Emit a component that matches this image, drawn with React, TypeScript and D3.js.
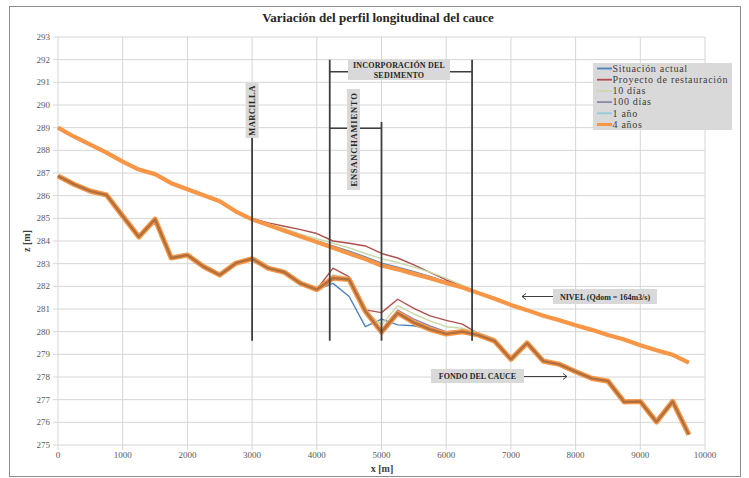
import React from "react";
import * as d3 from "d3";

// distancia a lo largo del cauce [m]
const xs = [
  0, 250, 500, 750, 1000, 1250, 1500, 1750, 2000, 2250, 2500, 2750, 3000, 3250,
  3500, 3750, 4000, 4250, 4500, 4750, 5000, 5250, 5500, 5750, 6000, 6250, 6500,
  6750, 7000, 7250, 7500, 7750, 8000, 8250, 8500, 8750, 9000, 9250, 9500, 9750,
];

// nivel de agua (Qdom = 164 m3/s)
const levelActual = [
  289.0, 288.6, 288.25, 287.9, 287.5, 287.15, 286.95, 286.55, 286.28, 286.02, 285.75, 285.3,
  284.97, 284.72, 284.5, 284.25, 284.0, 283.78, 283.55, 283.3, 283.02, 282.85, 282.65, 282.44,
  282.2, 281.98, 281.72, 281.45, 281.18, 280.95, 280.7, 280.5, 280.28, 280.08, 279.85, 279.65,
  279.4, 279.18, 278.98, 278.63,
];
const levelProyecto = [
  289.0, 288.6, 288.25, 287.9, 287.5, 287.15, 286.95, 286.55, 286.28, 286.02, 285.75, 285.3,
  285.0, 284.8, 284.65, 284.5, 284.33, 284.0, 283.9, 283.78, 283.45, 283.25, 282.95, 282.62,
  282.28, 282.0, 281.72, 281.45, 281.18, 280.95, 280.7, 280.5, 280.28, 280.08, 279.85, 279.65,
  279.4, 279.18, 278.98, 278.63,
];
const level10d = [
  289.0, 288.6, 288.25, 287.9, 287.5, 287.15, 286.95, 286.55, 286.28, 286.02, 285.75, 285.3,
  284.97, 284.75, 284.55, 284.3, 284.1, 283.9, 283.7, 283.45, 283.22, 283.05, 282.85, 282.63,
  282.35, 282.05, 281.75, 281.46, 281.18, 280.95, 280.7, 280.5, 280.28, 280.08, 279.85, 279.65,
  279.4, 279.18, 278.98, 278.63,
];
const level100d = [
  289.0, 288.6, 288.25, 287.9, 287.5, 287.15, 286.95, 286.55, 286.28, 286.02, 285.75, 285.3,
  284.96, 284.72, 284.48, 284.23, 283.98, 283.75, 283.5, 283.26, 282.98, 282.8, 282.6, 282.4,
  282.18, 281.97, 281.71, 281.45, 281.18, 280.95, 280.7, 280.5, 280.28, 280.08, 279.85, 279.65,
  279.4, 279.18, 278.98, 278.63,
];
const level1a = [
  289.0, 288.6, 288.25, 287.9, 287.5, 287.15, 286.95, 286.55, 286.28, 286.02, 285.75, 285.3,
  284.95, 284.71, 284.46, 284.21, 283.96, 283.72, 283.47, 283.22, 282.95, 282.77, 282.57, 282.38,
  282.16, 281.96, 281.7, 281.45, 281.18, 280.95, 280.7, 280.5, 280.28, 280.08, 279.85, 279.65,
  279.4, 279.18, 278.98, 278.63,
];
const level4a = [
  289.0, 288.6, 288.25, 287.9, 287.5, 287.15, 286.95, 286.55, 286.28, 286.02, 285.75, 285.3,
  284.95, 284.7, 284.45, 284.2, 283.95, 283.7, 283.45, 283.2, 282.92, 282.75, 282.55, 282.36,
  282.15, 281.95, 281.7, 281.45, 281.18, 280.95, 280.7, 280.5, 280.28, 280.08, 279.85, 279.65,
  279.4, 279.18, 278.98, 278.63,
];

// fondo del cauce
const bedActual = [
  286.87, 286.5, 286.2, 286.03, 285.1, 284.18, 284.96, 283.25, 283.38, 282.87, 282.5, 283.02,
  283.22, 282.8, 282.62, 282.13, 281.86, 282.13, 281.55, 280.22, 280.55, 280.3, 280.26, 280.12,
  279.92, 280.0, 279.85, 279.58, 278.78, 279.5, 278.7, 278.56, 278.24, 277.94, 277.82, 276.9,
  276.92, 276.02, 276.92, 275.46,
];
const bedProyecto = [
  286.87, 286.5, 286.2, 286.03, 285.1, 284.18, 284.96, 283.25, 283.38, 282.87, 282.5, 283.02,
  283.22, 282.8, 282.62, 282.13, 281.86, 282.8, 282.42, 280.96, 280.84, 281.43, 281.03, 280.7,
  280.5, 280.33, 279.9, 279.6, 278.78, 279.5, 278.7, 278.56, 278.24, 277.94, 277.82, 276.9,
  276.92, 276.02, 276.92, 275.46,
];
const bed10d = [
  286.87, 286.5, 286.2, 286.03, 285.1, 284.18, 284.96, 283.25, 283.38, 282.87, 282.5, 283.02,
  283.22, 282.8, 282.62, 282.13, 281.86, 282.5, 282.38, 280.93, 280.3, 281.15, 280.78, 280.48,
  280.22, 280.15, 279.95, 279.7, 278.78, 279.5, 278.7, 278.56, 278.24, 277.94, 277.82, 276.9,
  276.92, 276.02, 276.92, 275.46,
];
const bed100d = [
  286.87, 286.5, 286.2, 286.03, 285.1, 284.18, 284.96, 283.25, 283.38, 282.87, 282.5, 283.02,
  283.22, 282.8, 282.62, 282.13, 281.86, 282.45, 282.35, 280.92, 280.1, 280.95, 280.55, 280.25,
  280.0, 280.05, 279.88, 279.62, 278.78, 279.5, 278.7, 278.56, 278.24, 277.94, 277.82, 276.9,
  276.92, 276.02, 276.92, 275.46,
];
const bed1a = [
  286.87, 286.5, 286.2, 286.03, 285.1, 284.18, 284.96, 283.25, 283.38, 282.87, 282.5, 283.02,
  283.22, 282.8, 282.62, 282.13, 281.86, 282.4, 282.32, 280.9, 280.05, 280.88, 280.47, 280.16,
  279.95, 280.02, 279.86, 279.6, 278.78, 279.5, 278.7, 278.56, 278.24, 277.94, 277.82, 276.9,
  276.92, 276.02, 276.92, 275.46,
];
const bed4a = [
  286.87, 286.5, 286.2, 286.03, 285.1, 284.18, 284.96, 283.25, 283.38, 282.87, 282.5, 283.02,
  283.22, 282.8, 282.62, 282.13, 281.86, 282.36, 282.3, 280.9, 279.98, 280.82, 280.4, 280.1,
  279.9, 280.0, 279.85, 279.58, 278.78, 279.5, 278.7, 278.56, 278.24, 277.94, 277.82, 276.9,
  276.92, 276.02, 276.92, 275.46,
];

const seriesNames = [
  "Situación actual",
  "Proyecto de restauración",
  "10 días",
  "100 días",
  "1 año",
  "4 años",
];
const yTicks = d3.range(275, 294, 1);
const xTicks = d3.range(0, 10001, 1000);

const FONT = '"Liberation Serif", "DejaVu Serif", serif';

export default function App() {
  const W = 749;
  const H = 478;
  const x = d3.scaleLinear().domain([0, 10000]).range([58, 705]);
  const y = d3.scaleLinear().domain([275, 293]).range([445, 37]);

  const series = [
    { name: seriesNames[0], color: "#4f81bd", width: 1.4, level: levelActual, bed: bedActual },
    { name: seriesNames[1], color: "#b0504d", width: 1.4, level: levelProyecto, bed: bedProyecto },
    { name: seriesNames[2], color: "#c9d8a8", width: 1.4, level: level10d, bed: bed10d },
    { name: seriesNames[3], color: "#8f84aa", width: 1.4, level: level100d, bed: bed100d },
    { name: seriesNames[4], color: "#8fcbd8", width: 1.4, level: level1a, bed: bed1a },
    { name: seriesNames[5], color: "#f79646", width: 4.2, level: level4a, bed: bed4a },
  ];

  const line = (vals: number[]) =>
    d3.line<number>().x((_, i) => x(xs[i])).y((d) => y(d))(vals) || "";

  const dark = "#3f3f3f";
  const boxFill = "#d9d9d9";
  const lineBottom = 279.6;

  // lineas verticales de referencia
  const vlines = [
    { x: 3000, top: 288.6 },
    { x: 4200, top: 292.0 },
    { x: 5000, top: 289.25 },
    { x: 6400, top: 292.0 },
  ];

  return (
    <div>
      <style>{`body{margin:0} svg text{font-family:${FONT}}`}</style>
      <svg width={W} height={H} style={{ display: "block" }} fontFamily={FONT}>
        <rect x={0} y={0} width={W} height={H} fill="#fff" />
        <rect x={9.5} y={6.5} width={731} height={470} fill="none" stroke="#8c8c8c" />

        <text x={378} y={22} textAnchor="middle" fontSize={13} fontWeight="bold" fill="#262626">
          Variación del perfil longitudinal del cauce
        </text>

        {/* rejilla */}
        {yTicks.map((t) => (
          <g key={"y" + t}>
            <line x1={x(0) - 5} x2={x(10000)} y1={y(t)} y2={y(t)} stroke="#d6d6d6" />
            <text x={x(0) - 8} y={y(t)} dy="0.35em" textAnchor="end" fontSize={9} fill="#595959">
              {t}
            </text>
          </g>
        ))}
        {xTicks.map((t) => (
          <g key={"x" + t}>
            <line x1={x(t)} x2={x(t)} y1={y(293)} y2={y(275) + 5} stroke="#d6d6d6" />
            <text x={x(t)} y={458} textAnchor="middle" fontSize={9} fill="#595959">
              {t}
            </text>
          </g>
        ))}

        <text x={382} y={472} textAnchor="middle" fontSize={10} fontWeight="bold" fill="#404040">
          x [m]
        </text>
        <text
          transform={`translate(30,${y(284)}) rotate(-90)`}
          textAnchor="middle"
          fontSize={10}
          fontWeight="bold"
          fill="#404040"
        >
          z [m]
        </text>

        {/* series */}
        {series.map((s) => (
          <g key={s.name}>
            <path d={line(s.level)} fill="none" stroke={s.color} strokeWidth={s.width} strokeLinejoin="round" />
            <path d={line(s.bed)} fill="none" stroke={s.color} strokeWidth={s.width + (s.width > 2 ? 1 : 0)} strokeLinejoin="round" />
          </g>
        ))}
        <path d={line(bed4a)} fill="none" stroke="#a2693d" strokeWidth={2.4} strokeLinejoin="round" opacity={0.85} />

        {/* anotaciones */}
        {vlines.map((v) => (
          <line key={v.x} x1={x(v.x)} x2={x(v.x)} y1={y(v.top)} y2={y(lineBottom)} stroke={dark} strokeWidth={1.8} />
        ))}
        <line x1={x(4200)} x2={x(6400)} y1={y(291.47)} y2={y(291.47)} stroke={dark} strokeWidth={1.5} />
        <line x1={x(4200)} x2={x(5000)} y1={y(288.97)} y2={y(288.97)} stroke={dark} strokeWidth={1.5} />

        {/* MARCILLA */}
        <rect x={x(3000) - 6.5} y={83} width={13} height={55} fill={boxFill} />
        <text
          transform={`translate(${x(3000) + 3},110.5) rotate(-90)`}
          textAnchor="middle"
          fontSize={8.5}
          fontWeight="bold"
          letterSpacing={0.4}
          fill="#262626"
        >
          MARCILLA
        </text>

        {/* INCORPORACION */}
        <rect x={348} y={60} width={102} height={20} fill={boxFill} />
        <text x={399} y={68} textAnchor="middle" fontSize={8} fontWeight="bold" fill="#262626" letterSpacing={0.2}>
          INCORPORACIÓN DEL
        </text>
        <text x={399} y={77.5} textAnchor="middle" fontSize={8} fontWeight="bold" fill="#262626" letterSpacing={0.2}>
          SEDIMENTO
        </text>

        {/* ENSANCHAMIENTO */}
        <rect x={347} y={89} width={13} height={101} fill={boxFill} />
        <text
          transform={`translate(356.5,139.5) rotate(-90)`}
          textAnchor="middle"
          fontSize={8.5}
          fontWeight="bold"
          letterSpacing={0.8}
          fill="#262626"
        >
          ENSANCHAMIENTO
        </text>

        {/* NIVEL */}
        <rect x={553} y={289} width={104} height={15} fill={boxFill} />
        <text x={605} y={299.5} textAnchor="middle" fontSize={8} fontWeight="bold" fill="#262626">
          NIVEL (Qdom = 164m3/s)
        </text>
        <line x1={553} x2={522} y1={296.5} y2={296.5} stroke={dark} strokeWidth={1} />
        <path d="M526,293.5 L522,296.5 L526,299.5" fill="none" stroke={dark} strokeWidth={1} />

        {/* FONDO */}
        <rect x={431} y={369} width={93} height={14} fill={boxFill} />
        <text x={477.5} y={379} textAnchor="middle" fontSize={8} fontWeight="bold" fill="#262626">
          FONDO DEL CAUCE
        </text>
        <line x1={524} x2={567} y1={376.5} y2={376.5} stroke={dark} strokeWidth={1} />
        <path d="M563,373.5 L567,376.5 L563,379.5" fill="none" stroke={dark} strokeWidth={1} />

        {/* leyenda */}
        <rect x={593} y={63} width={139} height={67} fill={boxFill} />
        {series.map((s, i) => (
          <g key={"lg" + i} transform={`translate(597,${68.5 + i * 11.2})`}>
            <line x1={0} x2={15} y1={0} y2={0} stroke={s.color} strokeWidth={s.width > 2 ? 3 : 1.8} />
            <text x={15.5} y={0} dy="0.33em" fontSize={10} fill="#404040" letterSpacing={0.7}>
              {s.name}
            </text>
          </g>
        ))}
      </svg>
    </div>
  );
}
